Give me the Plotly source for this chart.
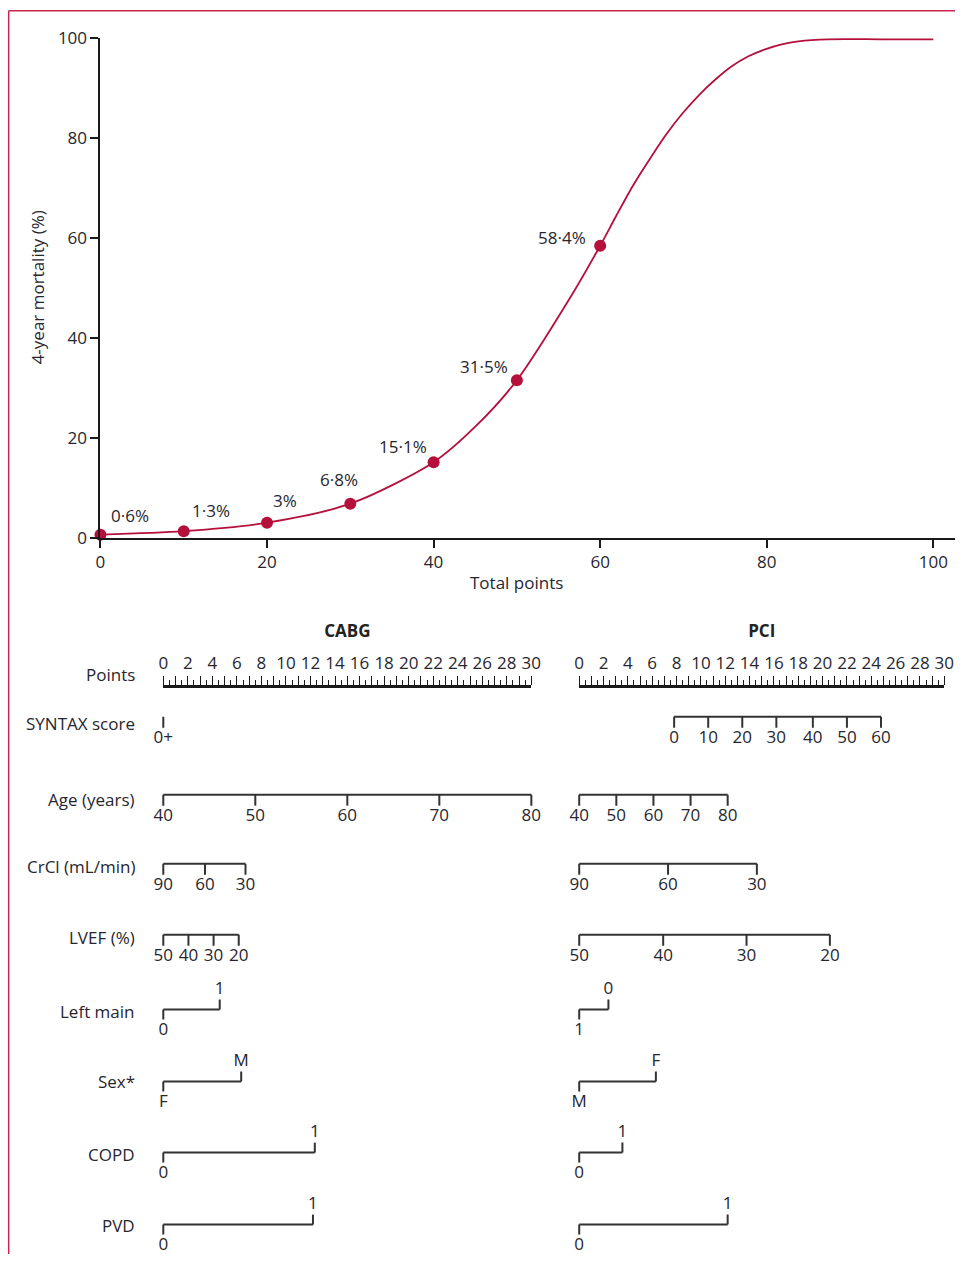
import plotly.graph_objects as go

W, H = 965, 1265

# ---------------- data ----------------
CURVE_POINTS = [0, 10, 20, 30, 40, 45, 50, 56.5, 60, 61.9, 63.9, 65.9, 67.9, 69.9, 71.9,
                73.8, 75.8, 77.8, 79.8, 81.8, 83.8, 87.4, 93.7, 100]
CURVE_MORTALITY = [0.6, 1.3, 3, 6.8, 15.1, 22.2, 31.5, 48.3, 58.4, 64.3, 70.3, 75.6, 80.6,
                   84.9, 88.6, 91.6, 94.3, 96.3, 97.7, 98.7, 99.3, 99.7, 99.7, 99.7]
MARKER_POINTS = [0, 10, 20, 30, 40, 50, 60]
MARKER_MORTALITY = [0.6, 1.3, 3, 6.8, 15.1, 31.5, 58.4]
MARKER_LABELS = ["0·6%", "1·3%", "3%", "6·8%", "15·1%", "31·5%", "58·4%"]
TOTAL_TICKS = [0, 20, 40, 60, 80, 100]
MORT_TICKS = [0, 20, 40, 60, 80, 100]

GROUPS = ["CABG", "PCI"]
POINT_TICKS = list(range(0, 31))
VARIABLES = ["SYNTAX score", "Age (years)", "CrCl (mL/min)", "LVEF (%)",
             "Left main", "Sex*", "COPD", "PVD"]
VAR_KIND = ["scale", "scale", "scale", "scale", "binary", "binary", "binary", "binary"]

CABG_LABELS = [["0+"], ["40", "50", "60", "70", "80"], ["90", "60", "30"],
               ["50", "40", "30", "20"], ["0", "1"], ["F", "M"], ["0", "1"], ["0", "1"]]
CABG_POINTS = [[0], [0, 7.5, 15, 22.5, 30], [0, 3.4, 6.7], [0, 2.05, 4.1, 6.15],
               [0, 4.6], [0, 6.35], [0, 12.35], [0, 12.2]]
PCI_LABELS = [["0", "10", "20", "30", "40", "50", "60"], ["40", "50", "60", "70", "80"],
              ["90", "60", "30"], ["50", "40", "30", "20"], ["1", "0"], ["M", "F"],
              ["0", "1"], ["0", "1"]]
PCI_POINTS = [[7.8, 10.6, 13.4, 16.2, 19.2, 22.0, 24.8], [0, 3.05, 6.1, 9.15, 12.2],
              [0, 7.3, 14.6], [0, 6.9, 13.75, 20.6], [0, 2.4], [0, 6.3], [0, 3.55], [0, 12.2]]

# ---------------- layout constants (pixels in the target picture) ----------------
FONT = "Open Sans"
TXT = "#26262f"
AX = "#1a1a1a"
RED = "#B5103C"
FRAME = "#C8264F"
FS = 17
FW = 500

ROW_LINE_Y = [717, 795, 864, 935, 1010, 1082, 1153, 1225]
ROW_LABEL_Y = [724, 800, 867, 938, 1012, 1082, 1155, 1226]
LABEL_OFFSETS = [(30, 19), (27, 21), (18, 22), (-11, 24), (-31, 16), (-33, 14), (-38, 8)]

# measured mapping of the viewer (page px -> picture px)
SX, OX = 0.987, 4.3
SY, OY = 0.982, 12.2


def fx(px):
    return ((px - OX) / SX) / W


def fy(py):
    return 1 - ((py - OY) / SY) / H


def xdom(px_lo, px_hi, px_v0, px_v1, v0, v1):
    """domain/range of an x axis whose values v0,v1 sit at picture px_v0,px_v1"""
    d0, d1 = max(fx(px_lo), 0.0), min(fx(px_hi), 1.0)
    a0, a1 = fx(px_v0), fx(px_v1)
    k = (v1 - v0) / (a1 - a0)
    return [d0, d1], [v0 + (d0 - a0) * k, v0 + (d1 - a0) * k]


def font(size=FS, color=TXT, weight=FW):
    return dict(family=FONT, size=size, color=color, weight=weight)


fig = go.Figure()

# ---- top: mortality curve ----
fig.add_trace(go.Scatter(x=CURVE_POINTS, y=CURVE_MORTALITY, mode="lines",
                         line=dict(color=RED, width=1.8, shape="spline", smoothing=0.8),
                         xaxis="x", yaxis="y", hoverinfo="skip", showlegend=False))
fig.add_trace(go.Scatter(x=MARKER_POINTS, y=MARKER_MORTALITY, mode="markers",
                         marker=dict(color=RED, size=12), cliponaxis=False,
                         xaxis="x", yaxis="y", showlegend=False))
for i, lab in enumerate(MARKER_LABELS):
    dx, dy = LABEL_OFFSETS[i]
    fig.add_annotation(x=MARKER_POINTS[i], y=MARKER_MORTALITY[i], xref="x", yref="y",
                       text=lab, showarrow=False, xshift=dx, yshift=dy, font=font())

# ---- bottom: nomogram ----
panels = [("x4", CABG_POINTS, CABG_LABELS), ("x5", PCI_POINTS, PCI_LABELS)]
for xa, pts_list, lab_list in panels:
    lx, ly, tx, ty, tt = [], [], [], [], []
    for r in range(len(VARIABLES)):
        pts, labs, y0 = pts_list[r], lab_list[r], ROW_LINE_Y[r]
        lx += [min(pts), max(pts), None]
        ly += [y0, y0, None]
        if VAR_KIND[r] == "scale":
            for p, t in zip(pts, labs):
                lx += [p, p, None]
                ly += [y0, y0 + 11, None]
                tx.append(p); ty.append(y0 + 22); tt.append(t)
        else:
            lx += [pts[0], pts[0], None, pts[1], pts[1], None]
            ly += [y0, y0 + 10, None, y0, y0 - 10, None]
            tx += [pts[0], pts[1]]
            ty += [y0 + 21, y0 - 20]
            tt += [labs[0], labs[1]]
    fig.add_trace(go.Scatter(x=lx, y=ly, mode="lines", line=dict(color="#333333", width=2),
                             xaxis=xa, yaxis="y2", hoverinfo="skip", showlegend=False))
    fig.add_trace(go.Scatter(x=tx, y=ty, mode="text", text=tt, cliponaxis=False,
                             textposition="middle center", textfont=font(),
                             xaxis=xa, yaxis="y2", hoverinfo="skip", showlegend=False))

# group headers on the Points rulers
for g, xa in zip(GROUPS, ["x2", "x3"]):
    fig.add_trace(go.Scatter(x=[15], y=[633], mode="text", text=[g],
                             cliponaxis=False, textfont=font(color="#222", weight=700),
                             xaxis=xa, yaxis="y2", hoverinfo="skip", showlegend=False))

for name, ly in zip(["Points"] + VARIABLES, [675] + ROW_LABEL_Y):
    fig.add_annotation(x=fx(137), y=fy(ly), xref="paper", yref="paper", text=name,
                       showarrow=False, xanchor="right", yanchor="middle", font=font())

fig.add_annotation(x=50, y=fy(583), xref="x", yref="paper", text="Total points",
                   showarrow=False, xanchor="center", yanchor="middle", font=font())
fig.add_annotation(x=fx(37), y=50, xref="paper", yref="y", text="4-year mortality (%)",
                   textangle=-90, showarrow=False, xanchor="center", yanchor="middle",
                   font=font())

ruler = dict(anchor="free", position=fy(686), side="top",
             showline=True, linewidth=2.5, linecolor=AX, ticks="outside",
             tickmode="array", tickvals=POINT_TICKS,
             ticktext=[str(v) if v % 2 == 0 else "" for v in POINT_TICKS],
             ticklen=9, tickwidth=1.2, tickcolor=AX,
             minor=dict(dtick=0.5, tick0=0, ticklen=5, tickwidth=1.2, tickcolor=AX, ticks="outside"),
             showgrid=False, zeroline=False, fixedrange=True, tickfont=font())

top_dom, top_rng = xdom(100, 957, 100, 935, 0, 100)
r2_dom, r2_rng = xdom(163, 532, 163, 532, 0, 30)
r3_dom, r3_rng = xdom(580, 946, 580, 946, 0, 30)
c_dom, c_rng = xdom(140, 560, 163, 532, 0, 30)
p_dom, p_rng = xdom(560, 965, 580, 946, 0, 30)

fig.update_layout(
    width=W, height=H, margin=dict(l=0, r=0, t=0, b=0),
    paper_bgcolor="white", plot_bgcolor="rgba(0,0,0,0)",
    font=dict(family=FONT, size=FS, color=TXT),
    showlegend=False,
    xaxis=dict(domain=top_dom, range=top_rng, anchor="y",
               showline=True, linewidth=2, linecolor=AX, ticks="outside", ticklen=8,
               tickwidth=1.5, tickcolor=AX, tickvals=TOTAL_TICKS, showgrid=False,
               zeroline=False, fixedrange=True, tickfont=font()),
    yaxis=dict(domain=[fy(538), fy(38)], range=[0, 100], anchor="x",
               showline=True, linewidth=2, linecolor=AX, ticks="outside", ticklen=8,
               tickwidth=1.5, tickcolor=AX, tickvals=MORT_TICKS, showgrid=False,
               zeroline=False, fixedrange=True, tickfont=font()),
    xaxis2=dict(domain=r2_dom, range=r2_rng, **ruler),
    xaxis3=dict(domain=r3_dom, range=r3_rng, **ruler),
    xaxis4=dict(domain=c_dom, range=c_rng, anchor="y2", visible=False, fixedrange=True),
    xaxis5=dict(domain=p_dom, range=p_rng, anchor="y2", visible=False, fixedrange=True),
    yaxis2=dict(domain=[0, 1], range=[OY + SY * H, OY], anchor="x4", visible=False,
                fixedrange=True),
    shapes=[
        dict(type="line", xref="paper", yref="paper", x0=fx(8), x1=1, y0=fy(11), y1=fy(11),
             line=dict(color=FRAME, width=1.5)),
        dict(type="line", xref="paper", yref="paper", x0=fx(8), x1=fx(8), y0=fy(11), y1=0,
             line=dict(color=FRAME, width=1.5)),
    ],
)

fig.write_html("out.html", config={"displayModeBar": False},
               post_script="document.body.style.margin='0';document.body.style.overflow='hidden';")
